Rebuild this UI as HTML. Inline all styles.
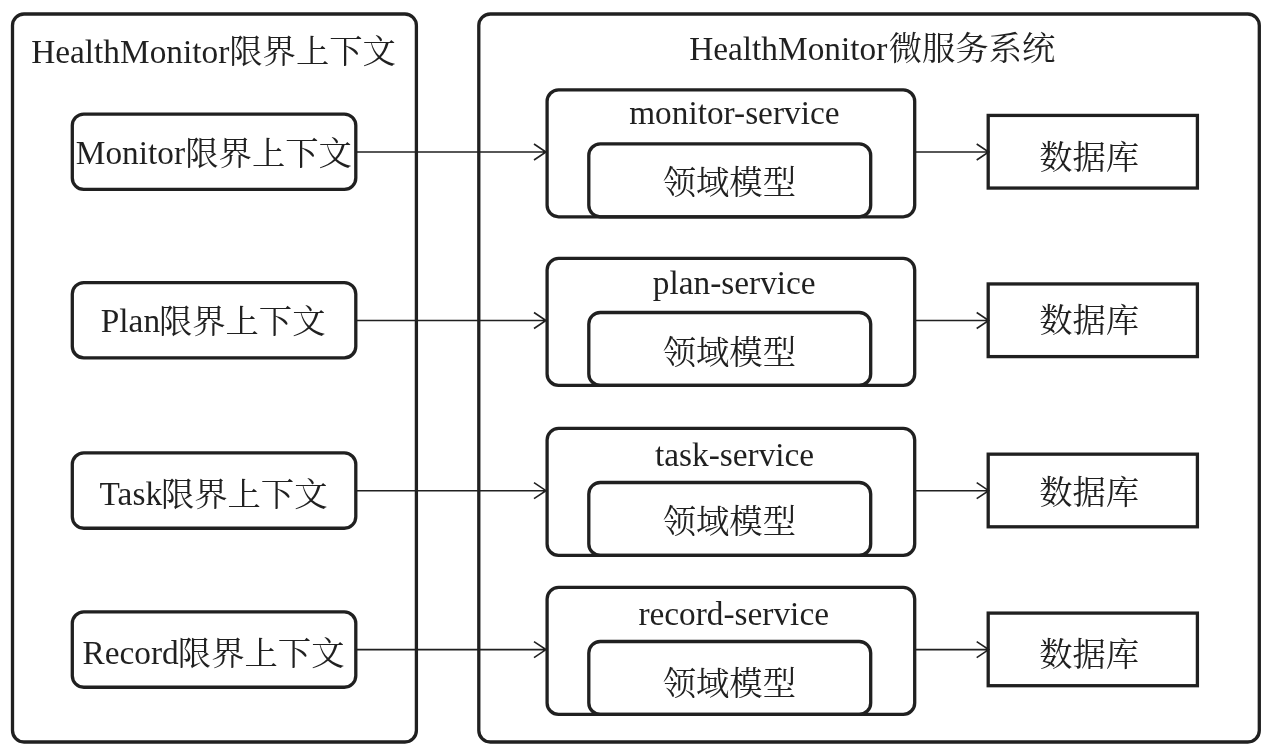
<!DOCTYPE html>
<html lang="zh-CN"><head><meta charset="utf-8"><title>HealthMonitor</title>
<style>html,body{margin:0;padding:0;background:#fff}body{width:1272px;height:754px;overflow:hidden}svg{display:block;filter:grayscale(1)}text{font-family:"Liberation Serif","Noto Serif CJK SC",serif;font-size:33.333px;fill:#231f20}.b{fill:none;stroke:#231f20;stroke-width:3.3}.bw{fill:#fff;stroke:#231f20;stroke-width:3.3}.a{fill:none;stroke:#231f20;stroke-width:1.6;stroke-linejoin:miter;stroke-linecap:butt}.c{fill:#231f20}</style></head><body>
<svg width="1272" height="754" viewBox="0 0 1272 754" role="img" aria-label="HealthMonitor bounded contexts mapped to microservices">
<rect class="b" x="12.5" y="14" width="403.9" height="728" rx="11.5" ry="11.5"/>
<rect class="b" x="478.8" y="14" width="780.5" height="728" rx="11.5" ry="11.5"/>
<path class="a" d="M356 152 H546 M534 144 L546 152 L534 160"/>
<path class="a" d="M915 152 H988.7 M976.7 144 L988.7 152 L976.7 160"/>
<path class="a" d="M356 320.5 H546 M534 312.5 L546 320.5 L534 328.5"/>
<path class="a" d="M915 320.5 H988.7 M976.7 312.5 L988.7 320.5 L976.7 328.5"/>
<path class="a" d="M356 490.7 H546 M534 482.7 L546 490.7 L534 498.7"/>
<path class="a" d="M915 490.7 H988.7 M976.7 482.7 L988.7 490.7 L976.7 498.7"/>
<path class="a" d="M356 649.6 H546 M534 641.6 L546 649.6 L534 657.6"/>
<path class="a" d="M915 649.6 H988.7 M976.7 641.6 L988.7 649.6 L976.7 657.6"/>
<rect class="b" x="72.3" y="114.06" width="283.5" height="75.38" rx="11.5" ry="11.5"/>
<rect class="b" x="72.3" y="282.53" width="283.5" height="75.37" rx="11.5" ry="11.5"/>
<rect class="b" x="72.3" y="452.85" width="283.5" height="75.4" rx="11.5" ry="11.5"/>
<rect class="b" x="72.3" y="611.85" width="283.5" height="75.4" rx="11.5" ry="11.5"/>
<rect class="b" x="547.1" y="89.85" width="367.6" height="126.95" rx="11.5" ry="11.5"/>
<rect class="b" x="588.8" y="143.9" width="281.9" height="72.9" rx="11.5" ry="11.5"/>
<rect class="b" x="547.1" y="258.47" width="367.6" height="126.93" rx="11.5" ry="11.5"/>
<rect class="b" x="588.8" y="312.5" width="281.9" height="72.9" rx="11.5" ry="11.5"/>
<rect class="b" x="547.1" y="428.47" width="367.6" height="126.93" rx="11.5" ry="11.5"/>
<rect class="b" x="588.8" y="482.5" width="281.9" height="72.9" rx="11.5" ry="11.5"/>
<rect class="b" x="547.1" y="587.47" width="367.6" height="126.93" rx="11.5" ry="11.5"/>
<rect class="b" x="588.8" y="641.5" width="281.9" height="72.9" rx="11.5" ry="11.5"/>
<rect class="b" x="988.2" y="115.42" width="209.2" height="72.64" rx="0" ry="0"/>
<rect class="b" x="988.2" y="283.95" width="209.2" height="72.65" rx="0" ry="0"/>
<rect class="b" x="988.2" y="454.17" width="209.2" height="72.63" rx="0" ry="0"/>
<rect class="b" x="988.2" y="613.1" width="209.2" height="72.6" rx="0" ry="0"/>
<text x="31.2" y="63">HealthMonitor</text>
<text x="229.3" y="63.3" font-size="33.5">限界上下文</text>
<text x="689.2" y="59.7">HealthMonitor</text>
<text x="888.7" y="60.4" font-size="33">微服务系统</text>
<text x="75.8" y="163.6">Monitor</text>
<text x="185.25" y="164.8" font-size="33.5">限界上下文</text>
<text x="100.8" y="332">Plan</text>
<text x="158.9" y="333" font-size="33.5">限界上下文</text>
<text x="99.6" y="504.5">Task</text>
<text x="160.9" y="506" font-size="33.5">限界上下文</text>
<text x="82.5" y="663.6">Record</text>
<text x="177.85" y="664.9" font-size="33.5">限界上下文</text>
<text x="629.2" y="124">monitor-service</text>
<text x="652.8" y="294">plan-service</text>
<text x="655" y="466">task-service</text>
<text x="638.4" y="625">record-service</text>
<text x="662.7" y="193.95" font-size="33.8">领域模型</text>
<text x="662.7" y="364.25" font-size="33.8">领域模型</text>
<text x="662.7" y="532.8" font-size="33.8">领域模型</text>
<text x="662.7" y="695.05" font-size="33.8">领域模型</text>
<text x="1039.2" y="168.9" font-size="33.4">数据库</text>
<text x="1039.2" y="332.4" font-size="33.4">数据库</text>
<text x="1039.2" y="504.4" font-size="33.4">数据库</text>
<text x="1039.2" y="665.6" font-size="33.4">数据库</text>
</svg></body></html>
